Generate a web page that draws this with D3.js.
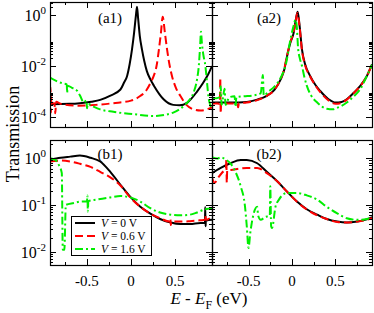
<!DOCTYPE html>
<html>
<head>
<meta charset="utf-8">
<script src="https://cdn.jsdelivr.net/npm/d3@7"></script>
<style>
  body { margin: 0; background: #fff; }
  svg { display: block; font-family: "Liberation Serif", "Times New Roman", serif; }
</style>
</head>
<body>
<div id="chart"></div>
<script>
// [E - E_F (eV), transmission]
const a1V0 = [[-0.92,3.2e-4],[-0.7,3.3e-4],[-0.58,3.5e-4],[-0.45,4.0e-4],[-0.35,4.7e-4],[-0.24,6.8e-4],[-0.12,1.2e-3],[-0.08,2.2e-3],[-0.045,4e-3],[-0.015,0.012],[0.011,0.044],[0.035,0.2],[0.055,0.9],[0.068,2.1],[0.08,0.8],[0.1,0.15],[0.125,0.044],[0.15,0.016],[0.18,6.3e-3],[0.22,3e-3],[0.26,1.7e-3],[0.37,5.0e-4],[0.48,3.0e-4],[0.55,2.9e-4],[0.64,3.7e-4],[0.75,1.0e-3],[0.82,2.2e-3],[0.88,5e-3],[0.92,1.0e-2]];
const a1V06 = [[-0.92,4e-4],[-0.915,1.5e-3],[-0.91,1.5e-4],[-0.905,6e-4],[-0.9,3.5e-4],[-0.87,3.5e-4],[-0.86,1.4e-4],[-0.85,4e-4],[-0.8,3.3e-4],[-0.6,2.8e-4],[-0.4,3e-4],[-0.2,3.5e-4],[0.0,4.4e-4],[0.1,6.5e-4],[0.18,1.2e-3],[0.23,2.5e-3],[0.257,4e-3],[0.29,1e-2],[0.317,0.044],[0.34,0.2],[0.36,0.85],[0.385,0.2],[0.41,0.044],[0.44,1e-2],[0.466,4e-3],[0.51,1.4e-3],[0.56,6.8e-4],[0.63,3e-4],[0.71,2.0e-4],[0.79,1.8e-4],[0.86,2.0e-4],[0.92,2.4e-4]];
const a1V16 = [[-0.92,3.5e-3],[-0.85,2.6e-3],[-0.78,2.1e-3],[-0.73,1.9e-3],[-0.725,9e-4],[-0.72,1.7e-3],[-0.67,1.4e-3],[-0.61,1.05e-3],[-0.57,6e-4],[-0.54,3.7e-4],[-0.505,4.5e-4],[-0.5,2.2e-4],[-0.49,3.3e-4],[-0.42,2.5e-4],[-0.35,2e-4],[-0.2,1.6e-4],[0.03,1.3e-4],[0.25,1.1e-4],[0.4,1.25e-4],[0.48,1.5e-4],[0.55,2e-4],[0.6,2.75e-4],[0.66,4.5e-4],[0.71,9e-4],[0.75,3e-3],[0.77,0.01],[0.785,0.06],[0.795,0.22],[0.805,0.08],[0.82,0.03],[0.845,0.01],[0.865,2e-3],[0.88,6e-4],[0.9,3e-4],[0.92,2e-4]];

const a2V0 = [[-0.92,3.7e-4],[-0.7,3.7e-4],[-0.52,3.9e-4],[-0.4,4.8e-4],[-0.29,6.8e-4],[-0.2,1.2e-3],[-0.13,3.0e-3],[-0.09,7e-3],[-0.057,0.024],[-0.02,0.08],[0.019,0.2],[0.045,0.7],[0.065,1.35],[0.085,0.45],[0.115,0.044],[0.15,0.012],[0.21,4e-3],[0.27,1.8e-3],[0.325,1.05e-3],[0.42,5e-4],[0.5,3.7e-4],[0.57,3.9e-4],[0.63,5e-4],[0.71,9e-4],[0.785,1.65e-3],[0.86,4e-3],[0.92,1.15e-2]];
const a2V06 = [[-0.92,3.4e-4],[-0.86,3.4e-4],[-0.83,3.3e-4],[-0.825,3.5e-3],[-0.82,1.4e-4],[-0.815,3.4e-4],[-0.7,3.4e-4],[-0.63,3.4e-4],[-0.62,2.4e-4],[-0.61,3.5e-4],[-0.52,3.7e-4],[-0.4,4.6e-4],[-0.29,6.8e-4],[-0.2,1.2e-3],[-0.13,3.1e-3],[-0.09,7.5e-3],[-0.057,0.026],[-0.02,0.085],[0.019,0.22],[0.045,0.65],[0.062,1.2],[0.085,0.4],[0.115,0.04],[0.15,0.011],[0.21,3.8e-3],[0.27,1.7e-3],[0.325,9.5e-4],[0.42,4.5e-4],[0.5,3.3e-4],[0.57,3.6e-4],[0.63,4.8e-4],[0.71,8.8e-4],[0.785,1.65e-3],[0.86,4e-3],[0.92,1.15e-2]];
const a2V16 = [[-0.92,5.5e-4],[-0.87,5.5e-4],[-0.83,6e-4],[-0.82,1.6e-3],[-0.81,3e-4],[-0.79,7e-4],[-0.775,1.3e-3],[-0.765,3e-4],[-0.72,6e-4],[-0.66,6.5e-4],[-0.65,2.5e-4],[-0.64,6e-4],[-0.55,6.5e-4],[-0.45,7e-4],[-0.36,8.5e-4],[-0.335,4.5e-3],[-0.325,7e-4],[-0.27,1e-3],[-0.2,1.6e-3],[-0.13,3.5e-3],[-0.07,0.012],[-0.02,0.1],[0.02,0.4],[0.04,0.65],[0.055,0.35],[0.07,0.05],[0.09,0.02],[0.115,0.01],[0.14,4e-3],[0.17,1.7e-3],[0.22,7e-4],[0.29,3.7e-4],[0.4,2.1e-4],[0.47,2.0e-4],[0.52,2.3e-4],[0.63,3.7e-4],[0.7,6e-4],[0.785,1.25e-3],[0.86,4e-3],[0.92,1.1e-2]];

const b1V0 = [[-0.92,0.92],[-0.8,1.02],[-0.69,1.08],[-0.58,1.14],[-0.46,1.02],[-0.35,0.85],[-0.235,0.51],[-0.12,0.27],[-0.01,0.15],[0.106,0.091],[0.22,0.065],[0.33,0.05],[0.45,0.042],[0.56,0.039],[0.67,0.039],[0.79,0.041],[0.84,0.041],[0.843,0.09],[0.847,0.035],[0.85,0.046],[0.92,0.048]];
const b1V06 = [[-0.92,0.85],[-0.8,0.89],[-0.69,0.85],[-0.58,0.76],[-0.46,0.65],[-0.35,0.51],[-0.235,0.39],[-0.12,0.26],[-0.01,0.145],[0.106,0.091],[0.22,0.065],[0.33,0.052],[0.44,0.044],[0.447,0.052],[0.452,0.037],[0.46,0.044],[0.56,0.044],[0.67,0.045],[0.79,0.047],[0.84,0.048],[0.845,0.06],[0.85,0.048],[0.92,0.055]];
const b1V16 = [[-0.92,1.0],[-0.86,0.92],[-0.82,0.72],[-0.786,0.48],[-0.775,0.011],[-0.757,0.011],[-0.74,0.1],[-0.65,0.11],[-0.58,0.118],[-0.5,0.12],[-0.495,0.16],[-0.49,0.072],[-0.485,0.12],[-0.39,0.13],[-0.235,0.145],[-0.12,0.155],[-0.01,0.145],[0.106,0.118],[0.22,0.085],[0.33,0.069],[0.45,0.062],[0.56,0.06],[0.67,0.062],[0.75,0.069],[0.845,0.081],[0.92,0.085]];

const b2V0 = [[-0.92,0.48],[-0.82,0.62],[-0.71,0.78],[-0.59,0.92],[-0.52,0.92],[-0.4,0.78],[-0.29,0.51],[-0.17,0.32],[-0.06,0.195],[0.057,0.118],[0.17,0.081],[0.29,0.062],[0.4,0.05],[0.52,0.044],[0.63,0.042],[0.75,0.044],[0.86,0.049],[0.92,0.055]];
const b2V06 = [[-0.92,0.38],[-0.89,0.3],[-0.85,0.38],[-0.8,0.5],[-0.76,0.6],[-0.755,0.95],[-0.75,0.3],[-0.745,0.55],[-0.7,0.56],[-0.6,0.6],[-0.52,0.62],[-0.4,0.62],[-0.29,0.48],[-0.17,0.32],[-0.06,0.195],[0.057,0.117],[0.17,0.08],[0.29,0.06],[0.4,0.05],[0.52,0.043],[0.63,0.042],[0.75,0.044],[0.86,0.048],[0.92,0.052]];
const b2V16 = [[-0.92,1.05],[-0.86,0.98],[-0.82,1.05],[-0.77,0.95],[-0.71,0.78],[-0.65,0.51],[-0.59,0.25],[-0.54,0.091],[-0.52,0.035],[-0.5,0.012],[-0.48,0.025],[-0.44,0.066],[-0.4,0.091],[-0.39,0.06],[-0.36,0.048],[-0.31,0.055],[-0.255,0.06],[-0.25,0.25],[-0.24,0.035],[-0.23,0.032],[-0.19,0.091],[-0.15,0.13],[-0.057,0.18],[0.057,0.18],[0.17,0.16],[0.29,0.13],[0.4,0.091],[0.52,0.066],[0.63,0.052],[0.75,0.048],[0.86,0.05],[0.92,0.055]];

const voltages = ["0", "0.6", "1.6"];
const panelNames = ["(a1)", "(a2)", "(b1)", "(b2)"];
const energyMajor = [-0.5, 0, 0.5];
const energyMinor = [-0.75, -0.25, 0.25, 0.75];
const topMajor = [1e-4, 1e-2, 1];
const topExps = ["-4", "-2", "0"];
const bottomMajor = [1e-2, 1e-1, 1];
const bottomExps = ["-2", "-1", "0"];

const width = 374, height = 313;
const cols = [[50, 212], [212, 372]];
const rows = [[2, 127], [140, 265]];
const topDomain = [4.07e-5, 3.24];
const bottomDomain = [5.19e-3, 2.45];

const styles = [
  {color: "#000000", dash: null},
  {color: "#ff0000", dash: "8,4"},
  {color: "#00ee00", dash: "8,3,2,3"},
];

const svg = d3.select("#chart").append("svg").attr("width", width).attr("height", height);
const defs = svg.append("defs");

function minorTicks(domain) {
  const out = [];
  const lo = Math.floor(Math.log10(domain[0])), hi = Math.ceil(Math.log10(domain[1]));
  for (let e = lo; e < hi; e++) {
    for (let k = 2; k <= 9; k++) {
      const v = k * Math.pow(10, e);
      if (v > domain[0] && v < domain[1]) out.push(v);
    }
  }
  return out;
}

function drawPanel(i, series, domain, major, exps, sparseMinor) {
  const col = i % 2, row = Math.floor(i / 2);
  const [x0, x1] = cols[col], [y0, y1] = rows[row];
  const x = d3.scaleLinear([-0.92, 0.92], [x0, x1]);
  const y = d3.scaleLog(domain, [y1, y0]);
  const g = svg.append("g");

  defs.append("clipPath").attr("id", "clip" + i)
    .append("rect").attr("x", x0).attr("y", y0).attr("width", x1 - x0).attr("height", y1 - y0);

  const line = d3.line().x((d) => x(d[0])).y((d) => y(d[1])).curve(d3.curveMonotoneX);
  const lines = g.append("g").attr("clip-path", `url(#clip${i})`);
  series.forEach((s, j) => {
    lines.append("path")
      .attr("d", line(s))
      .attr("fill", "none")
      .attr("stroke", styles[j].color)
      .attr("stroke-width", 2)
      .attr("stroke-dasharray", styles[j].dash);
  });

  // ticks on every side, pointing inward
  const ticks = g.append("g").attr("stroke", "#000").attr("stroke-width", 1);
  const xt = energyMajor.map((v) => [v, 6]).concat(energyMinor.map((v) => [v, 3]));
  xt.forEach(([v, len]) => {
    const px = Math.round(x(v)) + 0.5;
    ticks.append("line").attr("x1", px).attr("x2", px).attr("y1", y1).attr("y2", y1 - len);
    ticks.append("line").attr("x1", px).attr("x2", px).attr("y1", y0).attr("y2", y0 + len);
  });
  let minors = minorTicks(domain);
  if (sparseMinor) minors = minors.filter((v) => major.some((m) => v > m && v < m * 10));
  const yt = major.map((v) => [v, 6]).concat(minors.map((v) => [v, 3]));
  yt.forEach(([v, len]) => {
    const py = Math.round(y(v)) + 0.5;
    ticks.append("line").attr("x1", x0).attr("x2", x0 + len).attr("y1", py).attr("y2", py);
    ticks.append("line").attr("x1", x1).attr("x2", x1 - len).attr("y1", py).attr("y2", py);
  });

  g.append("rect")
    .attr("x", x0 + 0.5).attr("y", y0 + 0.5)
    .attr("width", x1 - x0).attr("height", y1 - y0)
    .attr("fill", "none").attr("stroke", "#000").attr("stroke-width", 1.2);

  g.append("text")
    .attr("x", col === 0 ? 110 : 269).attr("y", y0 + (row === 0 ? 21 : 19))
    .attr("text-anchor", "middle").attr("font-size", 15)
    .text(panelNames[i]);

  if (col === 0) {
    major.forEach((v, k) => {
      const t = g.append("text")
        .attr("x", 46).attr("y", y(v) + 6)
        .attr("text-anchor", "end").attr("font-size", 16);
      t.append("tspan").text("10");
      t.append("tspan").attr("dy", -7).attr("font-size", 11).text(exps[k]);
    });
  }
  if (row === 1) {
    energyMajor.forEach((v) => {
      g.append("text")
        .attr("x", x(v)).attr("y", 286)
        .attr("text-anchor", "middle").attr("font-size", 15)
        .text(v === 0 ? "0" : String(v));
    });
  }
}

drawPanel(0, [a1V0, a1V06, a1V16], topDomain, topMajor, topExps, true);
drawPanel(1, [a2V0, a2V06, a2V16], topDomain, topMajor, topExps, true);
drawPanel(2, [b1V0, b1V06, b1V16], bottomDomain, bottomMajor, bottomExps, false);
drawPanel(3, [b2V0, b2V06, b2V16], bottomDomain, bottomMajor, bottomExps, false);

// legend
const leg = svg.append("g");
leg.append("rect").attr("x", 71.5).attr("y", 216.5).attr("width", 80).attr("height", 39)
  .attr("fill", "#fff").attr("stroke", "#000").attr("stroke-width", 1);
voltages.forEach((v, j) => {
  const ly = 223 + j * 13;
  leg.append("line").attr("x1", 75).attr("x2", 95).attr("y1", ly).attr("y2", ly)
    .attr("stroke", styles[j].color).attr("stroke-width", 2)
    .attr("stroke-dasharray", styles[j].dash);
  const t = leg.append("text").attr("x", 101).attr("y", ly + 4).attr("font-size", 11.5);
  t.append("tspan").attr("font-style", "italic").text("V");
  t.append("tspan").text(` = ${v} V`);
});

// axis titles
const xt = svg.append("text").attr("x", 209).attr("y", 304).attr("text-anchor", "middle").attr("font-size", 17);
xt.append("tspan").attr("font-style", "italic").text("E");
xt.append("tspan").text(" - ");
xt.append("tspan").attr("font-style", "italic").text("E");
xt.append("tspan").attr("dy", 5).attr("font-size", 12).text("F");
xt.append("tspan").attr("dy", -5).text(" (eV)");

svg.append("text")
  .attr("transform", "translate(19,134) rotate(-90)")
  .attr("text-anchor", "middle").attr("font-size", 18)
  .text("Transmission");
</script>
</body>
</html>
